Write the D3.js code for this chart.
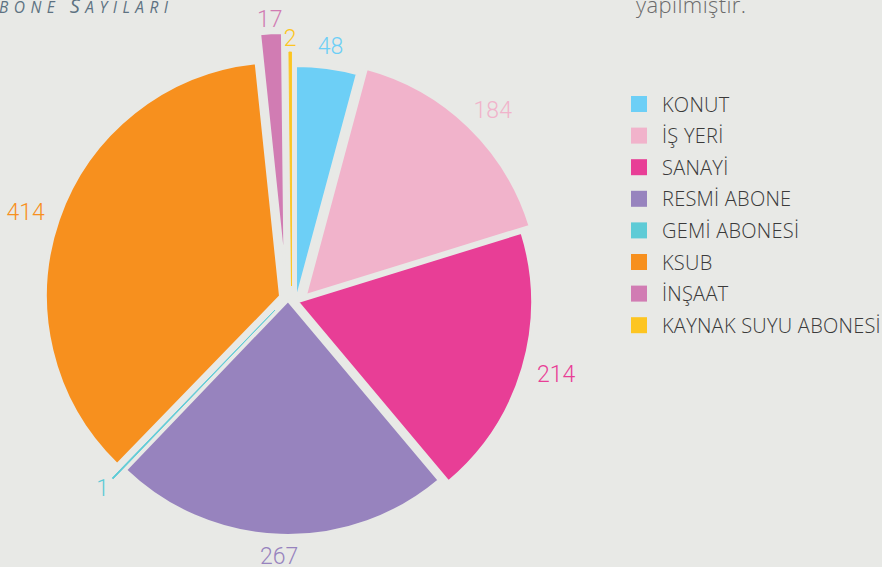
<!DOCTYPE html>
<html><head><meta charset="utf-8">
<script src="https://cdn.jsdelivr.net/npm/d3@7"></script>
<style>
html,body{margin:0;padding:0;background:#e8e9e6;}
svg{display:block;}
</style></head>
<body>
<svg id="c" width="882" height="567"></svg>
<script>
// Data
const categories = ["KONUT","İŞ YERİ","SANAYİ","RESMİ ABONE","GEMİ ABONESİ","KSUB","İNŞAAT","KAYNAK SUYU ABONESİ"];
const values = [48,184,214,267,1,414,17,2];
const colors = ["#6dcff6","#f1b3cb","#e83e96","#9783be","#5ecbd6","#f7901e","#d17cb3","#fdc521"];
// style: pull-out shift of each slice (px)
const pullX = [8,18,10,0,-13,-8,-3.5,3.5];
const pullY = [1,-4,3,2,11,-3,-32,-13];

const bg = "#e8e9e6";
const svg = d3.select("#c");
svg.append("rect").attr("width",882).attr("height",567).attr("fill",bg);

const cx = 288, cy = 299, R = 234;
const total = d3.sum(values);
const pie = d3.pie().sort(null).value(d=>d.v);
const data = pie(values.map((v,i)=>({v, i})));
const arc = d3.arc().innerRadius(0).outerRadius(R);

const g = svg.append("g").attr("transform",`translate(${cx},${cy})`);
g.selectAll("path").data(data).join("path")
  .attr("d", arc)
  .attr("transform", d=>`translate(${pullX[d.index]},${pullY[d.index]})`)
  .attr("fill", d=>colors[d.index])
  .attr("stroke", d=> (d.endAngle-d.startAngle) < 0.02 ? colors[d.index] : bg)
  .attr("stroke-width", d=> (d.endAngle-d.startAngle) < 0.02 ? 0.9 : 2)
  .attr("stroke-linejoin","miter");

// value labels
const lab = svg.append("g");
data.forEach(d=>{
  const m = (d.startAngle+d.endAngle)/2;
  const gap = values[d.index]/total < 0.02 ? 8 : 16;
  const r = R + gap;
  const t = lab.append("text")
    .text(values[d.index])
    .attr("fill", colors[d.index])
    .attr("font-family","Roboto, 'Open Sans', sans-serif")
    .attr("font-weight",300)
    .attr("font-size",23)
    .attr("text-anchor","middle")
    .attr("dominant-baseline","central");
  const w = t.node().getComputedTextLength(), h = 12;
  const x = cx + pullX[d.index] + r*Math.sin(m) + Math.sin(m)*w/2;
  const y = cy + pullY[d.index] - r*Math.cos(m) - Math.cos(m)*h/2;
  t.attr("x",x).attr("y",y);
});

// legend
const lg = svg.append("g").attr("transform","translate(631,96)");
const items = lg.selectAll("g").data(categories).join("g")
  .attr("transform",(d,i)=>`translate(0,${i*31.6})`);
items.append("rect").attr("width",16).attr("height",16).attr("fill",(d,i)=>colors[i]);
items.append("text").attr("x",31).attr("y",8).attr("dominant-baseline","central")
  .attr("font-family","'Open Sans', sans-serif").attr("font-weight",300)
  .attr("font-size",20).attr("letter-spacing",0.25).attr("fill","#3a3a3a").text(d=>d);

// title (cut at top-left): "ABONE SAYILARI" in small caps
const title = svg.append("text").attr("y",13)
  .attr("font-family","'Open Sans', sans-serif").attr("font-style","italic")
  .attr("font-weight",400).attr("fill","#5d7282");
const tA = title.append("tspan").attr("font-size",20).text("A");
title.append("tspan").attr("font-size",15.5).text("BONE ");
title.append("tspan").attr("font-size",20).text("S");
title.append("tspan").attr("font-size",15.5).text("AYILARI");
{
  const full = title.node().getComputedTextLength();
  const wA = tA.node().getComputedTextLength();
  const nGaps = "ABONE SAYILARI".length - 1;
  // B starts at x=-1, final I ends at x=168
  const target = 169;
  const sp = (target - (full - wA)) / (nGaps - 1);
  title.attr("letter-spacing", sp).attr("x", -1 - wA - sp);
}

// top-right note (cut)
svg.append("text").attr("x",636).attr("y",13)
  .attr("font-family","'Open Sans', sans-serif").attr("font-weight",300)
  .attr("font-size",22).attr("letter-spacing",0.4).attr("fill","#6b6b6b").text("yapılmıştır.");
</script>
</body></html>
